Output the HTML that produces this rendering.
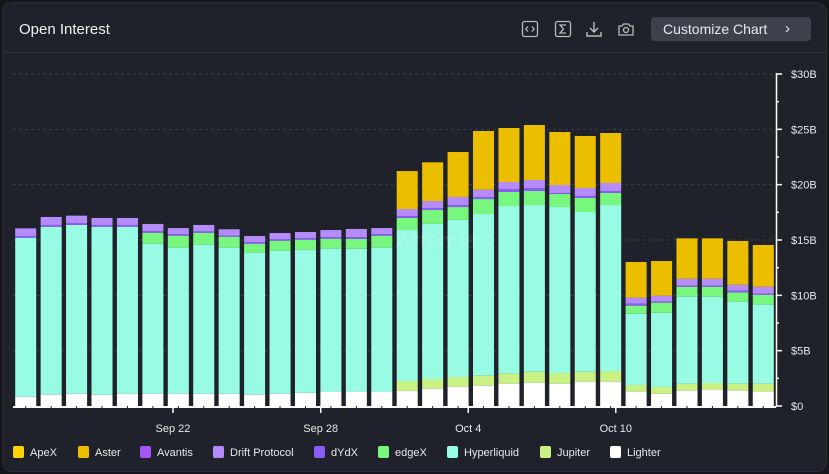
<!DOCTYPE html>
<html><head><meta charset="utf-8">
<style>
html,body{margin:0;padding:0;background:#15161b;width:829px;height:474px;overflow:hidden;font-family:"Liberation Sans",sans-serif;}
#card{position:absolute;left:2px;top:2px;width:823px;height:468px;background:#1f212b;border-radius:10px;border:1px solid #2a2c36;}
#title{position:absolute;left:16px;top:18px;color:#f2f2f5;font-size:15px;}
#sep{position:absolute;left:0;top:49px;width:823px;height:1px;background:#2c2e39;}
.icon{position:absolute;top:17px;width:18px;height:18px;}
#btn{position:absolute;left:648px;top:14px;width:160px;height:24px;background:#3e404c;border-radius:4px;color:#e8e8ee;font-size:14px;line-height:24px;}
</style></head><body>
<div id="card">
<div id="title">Open Interest</div>
<svg class="icon" style="left:518px" viewBox="0 0 18 18"><rect x="1.5" y="1.5" width="15" height="15" rx="2" fill="none" stroke="#bbb" stroke-width="1.3"/><path d="M7 6.5 4.8 9 7 11.5M11 6.5 13.2 9 11 11.5" fill="none" stroke="#bbb" stroke-width="1.3"/></svg>
<svg class="icon" style="left:551px" viewBox="0 0 18 18"><rect x="1.5" y="1.5" width="15" height="15" rx="2" fill="none" stroke="#bbb" stroke-width="1.3"/><path d="M12 5H6l3.5 4L6 13h6" fill="none" stroke="#bbb" stroke-width="1.3"/></svg>
<svg class="icon" style="left:582px" viewBox="0 0 18 18"><path d="M9 2v10M5 8l4 4 4-4M2 12v4h14v-4" fill="none" stroke="#bbb" stroke-width="1.4"/></svg>
<svg class="icon" style="left:614px" viewBox="0 0 18 18"><path d="M2 6h3l1.5-2h5L13 6h3v9H2z" fill="none" stroke="#bbb" stroke-width="1.3"/><circle cx="9" cy="10" r="2.5" fill="none" stroke="#bbb" stroke-width="1.3"/></svg>
<div id="btn"><span style="position:absolute;left:12px">Customize Chart</span><span style="position:absolute;left:134px;font-size:15px">›</span></div>
<div id="sep"></div>
</div>
<svg id="chart" width="829" height="474" style="position:absolute;left:0;top:0"></svg>
<script>
const categories=["Sep 16","Sep 17","Sep 18","Sep 19","Sep 20","Sep 21","Sep 22","Sep 23","Sep 24","Sep 25","Sep 26","Sep 27","Sep 28","Sep 29","Sep 30","Oct 1","Oct 2","Oct 3","Oct 4","Oct 5","Oct 6","Oct 7","Oct 8","Oct 9","Oct 10","Oct 11","Oct 12","Oct 13","Oct 14","Oct 15"];
const lighter=[.84,1.02,1.11,1.02,1.11,1.11,1.11,1.11,1.11,1.02,1.11,1.2,1.3,1.3,1.3,1.36,1.54,1.72,1.84,2.02,2.11,2.02,2.2,2.2,1.3,1.11,1.39,1.48,1.39,1.3];
const jupiter=[0,0,0,0,0,0,0,0,0,0,0,0,0,0,0,.9,.9,.9,.9,.9,.99,.96,.9,.96,.6,.61,.63,.6,.63,.72];
const hyperliquid=[14.37,15.18,15.25,15.18,15.09,13.56,13.2,13.47,13.2,12.84,12.93,12.93,12.92,12.9,13.01,13.64,14.01,14.19,14.61,15.15,15.06,15.0,14.43,15.0,6.44,6.71,7.86,7.8,7.41,7.14];
const edgex=[0,0,0,0,0,.99,1.08,1.08,.99,.81,.9,.9,.9,.9,1.08,1.1,1.26,1.17,1.35,1.27,1.27,1.18,1.27,1.09,.73,.91,.9,.9,.84,.9];
const dydx=[.15,.16,.18,.16,.16,.15,.15,.12,.1,.15,.15,.15,.15,.15,.15,.17,.18,.18,.19,.26,.27,.09,.18,.18,.18,.09,.09,.09,.15,.09];
const drift=[.69,.72,.66,.63,.63,.64,.54,.58,.57,.54,.54,.54,.63,.75,.54,.63,.63,.73,.66,.64,.72,.72,.72,.72,.54,.54,.63,.63,.54,.63];
const avantis=[0,0,0,0,0,0,0,0,0,0,0,0,0,0,0,0,0,0,0,0,0,0,0,0,0,0,0,0,0,0];
const aster=[0,0,0,0,0,0,0,0,0,0,0,0,0,0,0,3.43,3.5,4.06,5.3,4.88,4.97,4.79,4.7,4.52,3.22,3.13,3.65,3.65,3.95,3.77];
const apex=[0,0,0,0,0,0,0,0,0,0,0,0,0,0,0,0,0,0,0,0,0,0,0,0,0,0,0,0,0,0];
const yTicks=[0,5,10,15,20,25,30];
const yTickLabels=["$0","$5B","$10B","$15B","$20B","$25B","$30B"];
const xTickLabels=["Sep 22","Sep 28","Oct 4","Oct 10"];
const xTickIndex=[5.79,11.6,17.4,23.2];
const seriesNames=["Lighter","Jupiter","Hyperliquid","edgeX","dYdX","Drift Protocol","Avantis","Aster","ApeX"];
const seriesData=[lighter,jupiter,hyperliquid,edgex,dydx,drift,avantis,aster,apex];
const colors=["#ffffff","#c9f184","#98fce4","#78f77e","#8b5cf6","#b68cfb","#a855f7","#ecbe00","#fcd307"];
const legendOrder=["ApeX","Aster","Avantis","Drift Protocol","dYdX","edgeX","Hyperliquid","Jupiter","Lighter"];
const legendX=[13,78,140,213,314,378,447,540,610];

const NS="http://www.w3.org/2000/svg";
const svg=document.getElementById('chart');
const X0=13,X1=776,Y0=406,Y1=74,YMAX=30;
const band=(X1-X0)/categories.length;
const xs=i=>X0+i*band;
const ys=v=>Y0-(v/YMAX)*(Y0-Y1);
function mk(t,a){const e=document.createElementNS(NS,t);for(const k in a)e.setAttribute(k,a[k]);svg.appendChild(e);return e;}

yTicks.forEach((v,i)=>{
  if(v>0){const g=mk('line',{x1:X0,x2:X1,y1:ys(v),y2:ys(v),stroke:'#3b3e4b','stroke-dasharray':'3,3'});
  
  }
  const t=mk('text',{x:791,y:ys(v)+4,fill:'#e8e8ec','font-size':'11'});t.textContent=yTickLabels[i];
  
  
});
for(let v=0;v<=30;v+=2.5){const tk=mk('line',{x1:X1,x2:X1+(v%5===0?6:3),y1:ys(v),y2:ys(v),stroke:'#fff','stroke-width':1.5});

}
const ya=mk('line',{x1:X1+0.5,x2:X1+0.5,y1:Y1-1,y2:Y0+1,stroke:'#fff','stroke-width':1.5});



categories.forEach((c,i)=>{
  let acc=0;const bx=xs(i)+2.2,bw=band-4.4;
  const g=document.createElementNS(NS,'g');svg.appendChild(g);
  
  
  seriesData.forEach((s,k)=>{
    const v=s[i];if(!v)return;
    const r=document.createElementNS(NS,'rect');
    r.setAttribute('x',bx);r.setAttribute('width',bw);
    r.setAttribute('y',ys(acc+v));r.setAttribute('height',ys(acc)-ys(acc+v));
    r.setAttribute('fill',colors[k]);
    
    
    g.appendChild(r);acc+=v;
  });
});
const xa=mk('line',{x1:X0,x2:X1,y1:Y0+1,y2:Y0+1,stroke:'#fff','stroke-width':2});


categories.forEach((c,i)=>{const m=mk('line',{x1:xs(i)+band/2,x2:xs(i)+band/2,y1:Y0,y2:Y0+2,stroke:'#1f212b','stroke-width':1});

});
xTickLabels.forEach((l,i)=>{
  const x=xs(xTickIndex[i])+band/2;
  const tk=mk('line',{x1:x,x2:x,y1:Y0,y2:Y0+7,stroke:'#fff','stroke-width':1.5});
  
  
  const t=mk('text',{x:x,y:432,fill:'#e8e8ec','font-size':'11','text-anchor':'middle'});t.textContent=l;
  
  
});
legendOrder.forEach((n,i)=>{
  const k=seriesNames.indexOf(n);
  const g=document.createElementNS(NS,'g');svg.appendChild(g);
  
  
  const r=document.createElementNS(NS,'rect');
  r.setAttribute('x',legendX[i]);r.setAttribute('y',446);r.setAttribute('width',11);r.setAttribute('height',12);r.setAttribute('rx',2);r.setAttribute('fill',colors[k]);
  g.appendChild(r);
  const t=document.createElementNS(NS,'text');
  t.setAttribute('x',legendX[i]+17);t.setAttribute('y',456);t.setAttribute('fill','#e8e8ec');t.setAttribute('font-size','11');
  t.textContent=n;g.appendChild(t);
});
const wm=mk('text',{x:395,y:248,fill:'rgba(255,255,255,0.08)','font-size':'22','font-weight':'bold'});wm.textContent='Artemis';


</script>
</body></html>
